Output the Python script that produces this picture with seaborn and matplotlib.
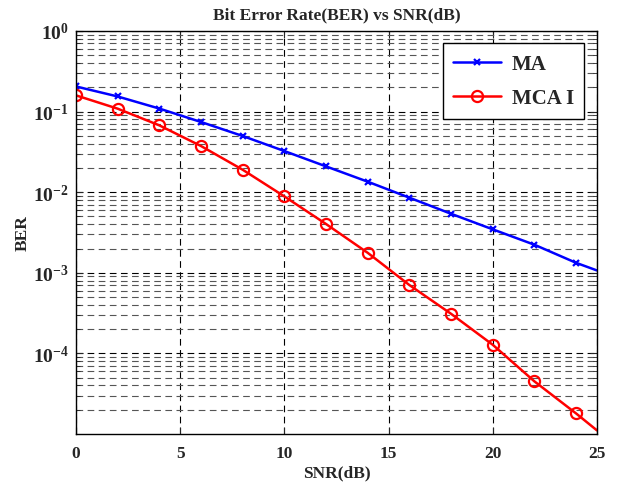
import numpy as np
import pandas as pd
import matplotlib
matplotlib.use("Agg")
import matplotlib.pyplot as plt
import seaborn as sns
from matplotlib.ticker import LogLocator, NullFormatter, FixedLocator

snr_db = [0, 2, 4, 6, 8, 10, 12, 14, 16, 18, 20, 22, 24, 25]
ber_ma = [0.205, 0.154, 0.109, 0.0743, 0.0498, 0.0324, 0.0209, 0.0135,
          0.00855, 0.0054, 0.00346, 0.00223, 0.00133, 0.00107]
ber_mca = [0.159, 0.1087, 0.0675, 0.0374, 0.019, 0.00887, 0.00403, 0.00177,
           0.000705, 0.00031, 0.000128, 4.5e-5, 1.8e-5, 1.11e-5]
marker_snr = [0, 2, 4, 6, 8, 10, 12, 14, 16, 18, 20, 22, 24]
series_names = ["MA", "MCA I"]
x_ticks = [0, 5, 10, 15, 20, 25]
x_tick_labels = ["0", "5", "10", "15", "20", "25"]
y_ticks = [1e0, 1e-1, 1e-2, 1e-3, 1e-4]
y_tick_labels = [r"$10^{0}$", r"$10^{-1}$", r"$10^{-2}$", r"$10^{-3}$", r"$10^{-4}$"]

sns.set_style("white")
plt.rcParams["font.family"] = ["Liberation Serif", "DejaVu Serif"]
plt.rcParams["font.weight"] = "bold"
plt.rcParams["mathtext.fontset"] = "custom"
plt.rcParams["mathtext.rm"] = "Liberation Serif:bold"
plt.rcParams["mathtext.bf"] = "Liberation Serif:bold"
plt.rcParams["mathtext.it"] = "Liberation Serif:bold"
plt.rcParams["mathtext.default"] = "rm"

df = pd.DataFrame({
    "SNR": snr_db * 2,
    "BER": ber_ma + ber_mca,
    "Scheme": [series_names[0]] * len(snr_db) + [series_names[1]] * len(snr_db),
})

fig = plt.figure(figsize=(6.33, 4.89), dpi=100)
ax = fig.add_axes([0.120, 0.1104, 0.823, 0.8242])

colors = {"MA": "#0000ff", "MCA I": "#ff0000"}
marks = {"MA": "x", "MCA I": "o"}
msizes = {"MA": 4.5, "MCA I": 8}
for name in series_names:
    sub = df[df["Scheme"] == name]
    mask = sub["SNR"].isin(marker_snr).tolist()
    sns.lineplot(data=sub, x="SNR", y="BER", ax=ax, color=colors[name],
                 linewidth=1.8, marker=marks[name], markersize=msizes[name],
                 markerfacecolor="none", markeredgecolor=colors[name],
                 markeredgewidth=1.6, markevery=mask, label=name, estimator=None)

ax.set_yscale("log")
ax.set_xlim(0, 25)
ax.set_ylim(1e-5, 1e0)

ax.xaxis.set_major_locator(FixedLocator(x_ticks))
ax.set_xticklabels(x_tick_labels)
ax.yaxis.set_major_locator(FixedLocator(y_ticks))
ax.set_yticklabels(y_tick_labels)
ax.yaxis.set_minor_locator(LogLocator(base=10, subs=np.arange(2, 10), numticks=20))
ax.yaxis.set_minor_formatter(NullFormatter())

ax.tick_params(axis="x", which="major", direction="in", length=5, width=0.8,
               labelsize=12.5, top=True, bottom=True, pad=8)
ax.tick_params(axis="y", which="major", direction="in", length=5, width=0.8,
               labelsize=14, left=True, right=True, pad=5)
ax.tick_params(axis="y", which="minor", direction="in", length=3, width=0.6,
               right=True, left=True)

ax.grid(True, which="major", axis="both", color="black", linestyle=(0, (6, 4)),
        linewidth=0.8)
ax.grid(True, which="minor", axis="y", color="#555555", linestyle=(0, (6, 4)),
        linewidth=0.8)

for sp in ax.spines.values():
    sp.set_color("black")
    sp.set_linewidth(1.0)

ax.set_title("Bit Error Rate(BER) vs SNR(dB)", fontsize=12.5, fontweight="bold", pad=9)
ax.set_xlabel("SNR(dB)", fontsize=12.5, fontweight="bold", labelpad=2)
ax.set_ylabel("BER", fontsize=12.5, fontweight="bold", labelpad=2)

leg = ax.legend(loc="upper right", fontsize=15, frameon=True, fancybox=False,
                edgecolor="black", framealpha=1, borderpad=0.5, handlelength=2.3,
                handletextpad=0.5, labelspacing=0.7, borderaxespad=0.6)
leg.get_frame().set_linewidth(1.0)
for t in leg.get_texts():
    t.set_fontweight("bold")

fig.savefig("out.png", dpi=100)
